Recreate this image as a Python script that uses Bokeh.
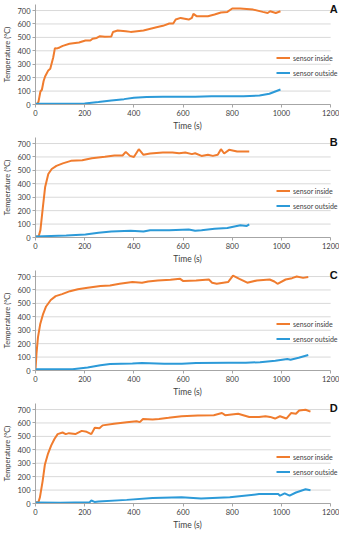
from bokeh.plotting import figure
from bokeh.layouts import column
from bokeh.models import FixedTicker, Label
from bokeh.embed import file_html
from bokeh.resources import INLINE

# ---------------- data (time in s, temperature in °C) ----------------
t_a_in = [7, 12, 20, 26, 33, 39, 52, 60, 72, 79, 88, 98, 111, 138, 177, 203, 223, 232, 249, 262, 282, 308, 315,
          334, 367, 387, 439, 492, 518, 544, 560, 570, 590, 623, 636, 642, 655, 701, 728, 754, 780, 800, 832, 885,
          924, 944, 954, 977, 996]
T_a_in = [5, 20, 97, 110, 175, 209, 254, 266, 350, 420, 418, 425, 437, 452, 462, 477, 477, 490, 496, 509, 504, 506,
          540, 551, 546, 541, 551, 576, 586, 603, 603, 633, 645, 633, 645, 675, 658, 658, 670, 685, 690, 715, 715,
          707, 690, 682, 695, 682, 695]
t_a_out = [0, 100, 200, 256, 308, 360, 400, 452, 518, 600, 649, 715, 846, 911, 951, 996]
T_a_out = [5, 5, 8, 18, 30, 40, 50, 56, 58, 58, 57, 62, 62, 67, 80, 112]

t_b_in = [0, 13, 20, 30, 39, 52, 66, 85, 111, 144, 190, 229, 282, 321, 354, 367, 384, 400, 420, 439, 466, 518, 557,
          584, 609, 636, 649, 675, 701, 721, 741, 754, 767, 787, 820, 869]
T_b_in = [5, 10, 55, 226, 374, 473, 510, 534, 552, 571, 576, 591, 601, 611, 611, 638, 608, 600, 658, 616, 626, 633,
          633, 628, 633, 621, 628, 608, 616, 608, 616, 658, 626, 653, 640, 640]
t_b_out = [0, 125, 203, 256, 308, 387, 439, 466, 544, 623, 649, 675, 728, 780, 833, 859, 869]
T_b_out = [8, 15, 22, 35, 44, 50, 44, 54, 54, 59, 50, 54, 66, 71, 91, 86, 98]

t_c_in = [0, 4, 10, 19, 30, 43, 62, 82, 108, 140, 172, 212, 264, 303, 342, 394, 433, 458, 497, 549, 588, 601, 653,
          705, 718, 737, 783, 803, 829, 861, 900, 952, 971, 984, 1017, 1043, 1062, 1088, 1109]
T_c_in = [5, 126, 247, 344, 416, 477, 525, 554, 569, 591, 605, 617, 630, 634, 646, 659, 654, 663, 671, 676, 683, 666,
          671, 678, 654, 646, 659, 707, 683, 654, 671, 678, 663, 646, 678, 688, 700, 690, 697]
t_c_out = [0, 150, 212, 264, 303, 394, 433, 523, 595, 653, 783, 855, 913, 975, 1024, 1037, 1070, 1109]
T_c_out = [10, 10, 22, 39, 48, 53, 56, 51, 51, 56, 58, 58, 62, 72, 85, 80, 95, 115]

t_d_in = [0, 12, 18, 29, 38, 51, 64, 77, 90, 110, 123, 136, 162, 188, 208, 227, 241, 260, 273, 319, 371, 411, 424,
          437, 476, 502, 541, 594, 660, 725, 758, 771, 824, 869, 909, 935, 954, 974, 994, 1020, 1039, 1059, 1072,
          1098, 1118]
T_d_in = [10, 10, 46, 167, 288, 372, 433, 481, 517, 529, 517, 524, 517, 541, 534, 517, 565, 560, 582, 594, 606, 613,
          606, 630, 625, 630, 638, 650, 655, 658, 674, 658, 669, 645, 645, 650, 645, 633, 650, 633, 674, 669, 693,
          698, 684]
t_d_out = [0, 100, 220, 227, 240, 256, 371, 476, 594, 673, 790, 909, 987, 994, 1013, 1033, 1059, 1098, 1118]
T_d_out = [8, 6, 10, 22, 12, 14, 27, 41, 46, 38, 46, 70, 70, 58, 75, 58, 82, 106, 99]

panel_letters = ["A", "B", "C", "D"]
series_names = ["sensor inside", "sensor outside"]
x_ticks = [0, 200, 400, 600, 800, 1000, 1200]
y_ticks = [0, 100, 200, 300, 400, 500, 600, 700]

ORANGE = "#F07C2E"
BLUE = "#2C9AD8"
FONT = "Lato"


def make_panel(letter, t_in, T_in, t_out, T_out):
    p = figure(width=339, height=133, x_range=(0, 1236), y_range=(0, 745),
               output_backend="svg", toolbar_location=None,
               min_border_left=10, min_border_right=0, min_border_top=4, min_border_bottom=4)
    p.outline_line_color = None
    p.background_fill_color = "white"
    p.border_fill_color = "white"

    # horizontal gridlines spanning the time axis only
    n = len(y_ticks)
    p.segment(x0=[x_ticks[0]] * n, y0=y_ticks, x1=[x_ticks[-1]] * n, y1=y_ticks,
              line_color="#D9D9D9", line_width=1)

    p.line(t_in, T_in, color=ORANGE, line_width=2, legend_label=series_names[0])
    p.line(t_out, T_out, color=BLUE, line_width=2, legend_label=series_names[1])

    p.xgrid.visible = False
    p.ygrid.visible = False

    p.xaxis.ticker = FixedTicker(ticks=x_ticks)
    p.yaxis.ticker = FixedTicker(ticks=y_ticks)
    p.xaxis.bounds = (x_ticks[0], x_ticks[-1])
    for ax in (p.xaxis, p.yaxis):
        ax.axis_line_color = "#A6A6A6"
        ax.major_tick_line_color = "#A6A6A6"
        ax.major_tick_out = 3
        ax.major_tick_in = 0
        ax.minor_tick_line_color = None
        ax.major_label_text_font = FONT
        ax.major_label_text_font_size = "7.5px"
        ax.major_label_text_color = "#404040"
        ax.major_label_standoff = 2
        ax.axis_label_text_font = FONT
        ax.axis_label_text_font_style = "normal"
        ax.axis_label_text_color = "#404040"
        ax.axis_label_standoff = 2
    p.xaxis.axis_label = "Time (s)"
    p.xaxis.axis_label_text_font_size = "8.5px"
    p.yaxis.axis_label = "Temperature (°C)"
    p.yaxis.axis_label_text_font_size = "7.5px"

    lg = p.legend[0]
    lg.location = (241, 27)
    lg.border_line_color = None
    lg.background_fill_alpha = 0
    lg.padding = 0
    lg.margin = 0
    lg.spacing = 6
    lg.glyph_width = 14
    lg.glyph_height = 9
    lg.label_height = 9
    lg.label_standoff = 3
    lg.label_text_font = FONT
    lg.label_text_font_size = "7px"
    lg.label_text_color = "#404040"

    p.add_layout(Label(x=1196, y=712, text=letter, text_font="Liberation Sans",
                       text_font_style="bold", text_font_size="11px",
                       text_baseline="middle", text_align="left", text_color="#111111"))
    return p


panels = [
    make_panel(panel_letters[0], t_a_in, T_a_in, t_a_out, T_a_out),
    make_panel(panel_letters[1], t_b_in, T_b_in, t_b_out, T_b_out),
    make_panel(panel_letters[2], t_c_in, T_c_in, t_c_out, T_c_out),
    make_panel(panel_letters[3], t_d_in, T_d_in, t_d_out, T_d_out),
]

layout = column(*panels, spacing=0)
open("out.html", "w").write(file_html(layout, INLINE))
